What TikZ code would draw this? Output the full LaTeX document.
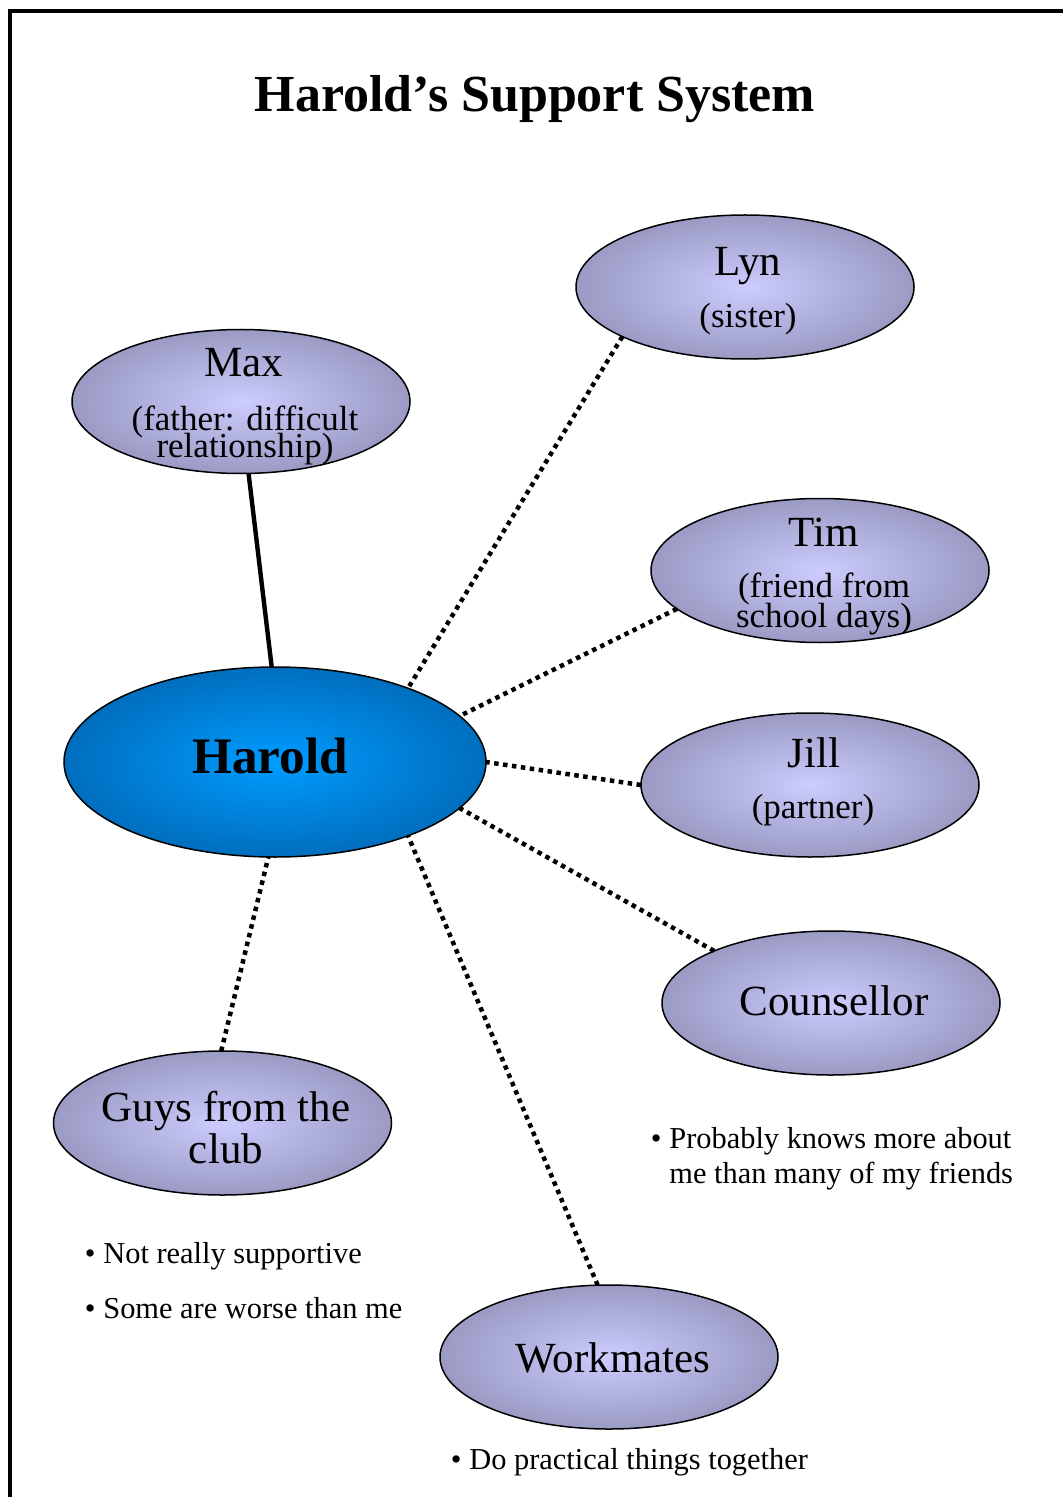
\documentclass[tikz,border=0pt]{standalone}
\usepackage{fontspec}
\setmainfont{Liberation Serif}
\usetikzlibrary{shapes.geometric}
\definecolor{bubIn}{RGB}{204,204,254}
\definecolor{bubOut}{RGB}{154,154,196}
\definecolor{harIn}{RGB}{0,156,255}
\definecolor{harOut}{RGB}{0,110,190}
\tikzset{
  bubble/.style={ellipse, draw=black, line width=0.75pt, minimum width=169pt, minimum height=72pt,
    inner sep=0pt, outer sep=0pt, shading=radial, inner color=bubIn, outer color=bubOut},
  centre/.style={ellipse, draw=black, line width=0.75pt, minimum width=211pt, minimum height=95pt,
    inner sep=0pt, outer sep=0pt, shading=radial, inner color=harIn, outer color=harOut},
  nametxt/.style={anchor=base, inner sep=0pt, font=\fontsize{21.5}{24}\selectfont},
  subtxt/.style={anchor=base, inner sep=0pt, font=\fontsize{17.5}{20}\selectfont},
  bultxt/.style={anchor=base west, inner sep=0pt, font=\fontsize{15.2}{18}\selectfont},
  dotlink/.style={line width=2.25pt, dash pattern=on 2.25pt off 2.25pt},
  solidlink/.style={line width=2.2pt},
  frameline/.style={line width=2.2pt}
}
\newcommand{\bul}{\llap{\textbullet\kern4pt}}
\begin{document}
\begin{tikzpicture}[x=0.5pt, y=-0.5pt]
\useasboundingbox (0,0) rectangle (1063,1497);
\fill[white] (0,0) rectangle (1063,1497);
\draw[frameline] (10,1510) -- (10,11) -- (1075,11);

% title
\node[anchor=base, inner sep=0pt, font=\bfseries\fontsize{26}{30}\selectfont] (title) at (535,112) {Harold’s Support System};

% ellipses
\node[centre] (Harold) at (275,762) {};
\node[bubble] (Lyn) at (745,287) {};
\node[bubble] (Max) at (241,401.5) {};
\node[bubble] (Tim) at (820,570.5) {};
\node[bubble] (Jill) at (810,785) {};
\node[bubble] (Couns) at (831,1003) {};
\node[bubble] (Guys) at (222.5,1123) {};
\node[bubble] (Work) at (609,1357) {};

% connectors
\draw[solidlink] (Max.-84) -- (Harold.92);
\draw[dotlink] (Lyn.202) -- (Harold.29);
\draw[dotlink] (Tim.195) -- (Harold.14);
\draw[dotlink] (Jill.180) -- (Harold.0);
\draw[dotlink] (Couns.156) -- (Harold.-14);
\draw[dotlink] (Work.99) -- (Harold.-29.4);
\draw[dotlink] (Guys.91) -- (Harold.-94);

% texts in ellipses
\node[anchor=base, inner sep=0pt, font=\bfseries\fontsize{25.6}{30}\selectfont] (haroldT) at (270,773) {Harold};
\node[nametxt] (lynA) at (748,276) {Lyn};
\node[subtxt] (lynB) at (748,328) {(sister)};
\node[nametxt] (maxA) at (244,377) {Max};
\node[subtxt] (maxB) at (245,430) {(father: difficult};
\node[subtxt] (maxC) at (245,458) {relationship)};
\node[nametxt] (timA) at (824,546) {Tim};
\node[subtxt] (timB) at (824,597) {(friend from};
\node[subtxt] (timC) at (824,627) {school days)};
\node[nametxt] (jillA) at (814,767) {Jill};
\node[subtxt] (jillB) at (813,818) {(partner)};
\node[nametxt] (counsA) at (834,1015) {Counsellor};
\node[nametxt] (guysA) at (226,1121) {Guys from the};
\node[nametxt] (guysB) at (226,1163) {club};
\node[nametxt] (workA) at (613,1372) {Workmates};

% bullet notes
\node[bultxt] (noteA) at (669,1148) {\bul Probably knows more about};
\node[bultxt] (noteB) at (669,1183) {me than many of my friends};
\node[bultxt] (noteC) at (103,1263) {\bul Not really supportive};
\node[bultxt] (noteD) at (103,1318) {\bul Some are worse than me};
\node[bultxt] (noteE) at (469,1469) {\bul Do practical things together};
\end{tikzpicture}
\end{document}
